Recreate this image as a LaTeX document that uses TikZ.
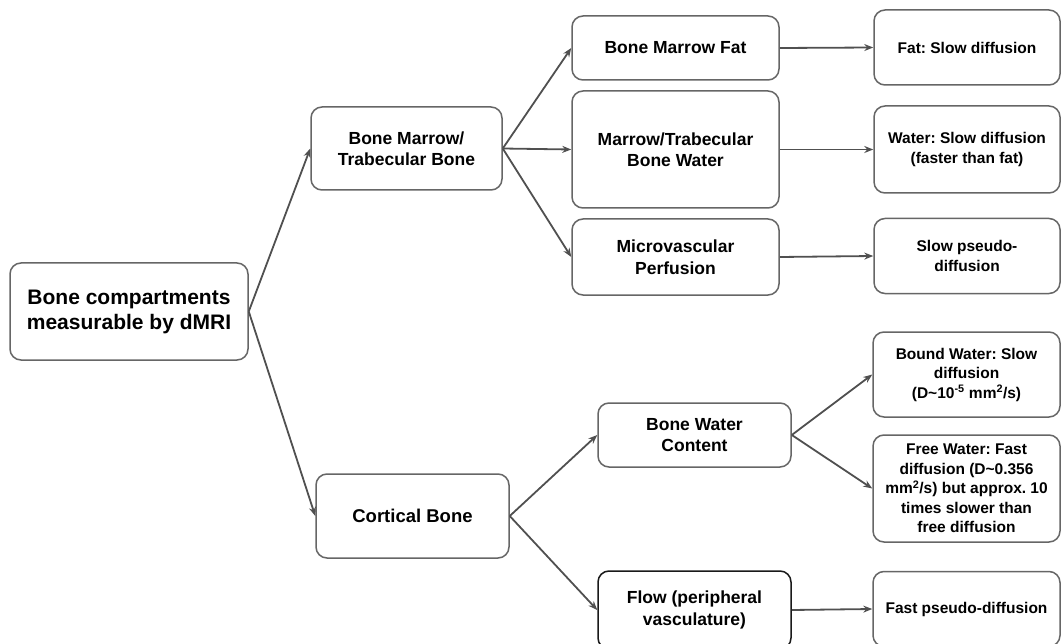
\documentclass[tikz,border=0pt]{standalone}
\usepackage{fontspec}
\setmainfont{Liberation Sans}
\usetikzlibrary{arrows.meta}
\definecolor{boxline}{HTML}{666666}
\definecolor{arrowc}{HTML}{505050}
\tikzset{
  box/.style={draw=boxline, line width=1.5pt, rounded corners=11pt, fill=white,
    align=center, inner sep=2pt, font=\bfseries\fontsize{17.5}{21.5}\selectfont},
  bigbox/.style={box, font=\bfseries\fontsize{21}{25}\selectfont},
  rbox/.style={box, font=\bfseries\fontsize{15.5}{19.5}\selectfont},
  conn/.style={draw=arrowc, line width=1.8pt, -{Stealth[length=9pt,width=7pt]}},
}
\frenchspacing
\begin{document}
\begin{tikzpicture}[x=1pt,y=-1pt]
\useasboundingbox (0,0) rectangle (1062,644);
% column 1
\node[bigbox, minimum width=238pt, minimum height=97pt] (root) at (129,311.5) {Bone compartments\\measurable by dMRI};
% column 2
\node[box, minimum width=191pt, minimum height=83pt] (bm) at (406.5,148.5) {Bone Marrow/\\Trabecular Bone};
\node[box, font=\bfseries\fontsize{18.5}{22}\selectfont, minimum width=193pt, minimum height=84pt] (cort) at (412.5,516) {Cortical Bone};
% column 3
\node[box, minimum width=207pt, minimum height=64pt] (bmf) at (675.5,48) {Bone Marrow Fat};
\node[box, minimum width=207pt, minimum height=117pt] (mtw) at (675.5,149.5) {Marrow/Trabecular\\Bone Water};
\node[box, minimum width=207pt, minimum height=76pt] (mvp) at (675.5,257) {Microvascular\\Perfusion};
\node[box, minimum width=193pt, minimum height=64pt] (bwc) at (694.5,435) {Bone Water\\Content};
\node[box, draw=black!90, minimum width=193pt, minimum height=78pt] (flow) at (694.5,610) {Flow (peripheral\\vasculature)};
% column 4
\node[rbox, minimum width=186pt, minimum height=75pt] (fat) at (967,47.5) {Fat: Slow diffusion};
\node[rbox, minimum width=186pt, minimum height=87pt] (wat) at (967,149.5) {Water: Slow diffusion\\(faster than fat)};
\node[rbox, minimum width=186pt, minimum height=75pt] (spd) at (967,256) {Slow pseudo-\\diffusion};
\node[rbox, minimum width=187pt, minimum height=85pt] (bnd) at (966.5,374.5) {Bound Water: Slow\\diffusion\\(D\textasciitilde10\textsuperscript{-5} mm\textsuperscript{2}/s)};
\node[rbox, minimum width=187pt, minimum height=107pt] (free) at (966.5,488.5) {Free Water: Fast\\diffusion (D\textasciitilde0.356\\mm\textsuperscript{2}/s) but approx. 10\\times slower than\\free diffusion};
\node[rbox, minimum width=187pt, minimum height=75pt] (fpd) at (966.5,609) {Fast pseudo-diffusion};
% connectors
\draw[conn] (root.east) -- (bm.west);
\draw[conn] (root.east) -- (cort.west);
\draw[conn] (bm.east) -- (bmf.west);
\draw[conn] (bm.east) -- (mtw.west);
\draw[conn] (bm.east) -- (mvp.west);
\draw[conn] (bmf.east) -- (fat.west);
\draw[conn] (mtw.east) -- (wat.west);
\draw[conn] (mvp.east) -- (spd.west);
\draw[conn] (cort.east) -- (bwc.west);
\draw[conn] (cort.east) -- (flow.west);
\draw[conn] (bwc.east) -- (bnd.west);
\draw[conn] (bwc.east) -- (free.west);
\draw[conn] (flow.east) -- (fpd.west);
\end{tikzpicture}
\end{document}
